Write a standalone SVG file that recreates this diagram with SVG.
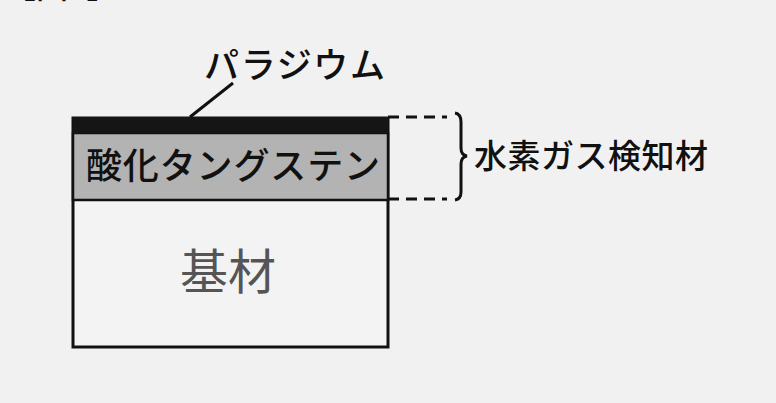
<svg xmlns="http://www.w3.org/2000/svg" width="776" height="403" viewBox="0 0 776 403">
<style>
.t{font-family:"Noto Sans CJK JP","Noto Sans CJK SC",sans-serif;fill:#111;font-weight:500}
.line{stroke:#111;fill:none}
.dash{stroke:#111;stroke-width:3;stroke-dasharray:11,7;fill:none}
</style>
<rect width="776" height="403" fill="#f1f1f1"/>
<g id="title"><text class="t" x="4" y="-2" font-size="32">【図1】</text></g>
<g id="substrate">
<rect x="73" y="118" width="315" height="229" fill="#f3f3f3" stroke="#111" stroke-width="3"/>
<text class="t" x="180" y="289" font-size="48" style="fill:#555;font-weight:400">基材</text>
</g>
<g id="tungsten-oxide">
<rect x="73" y="133" width="315" height="67" fill="#b3b3b3" stroke="#111" stroke-width="2.5"/>
<text class="t" x="86" y="179" font-size="36" textLength="294">酸化タングステン</text>
</g>
<g id="palladium">
<rect x="73" y="117" width="315" height="16" fill="#151515"/>
<text class="t" x="204" y="78" font-size="35" textLength="181">パラジウム</text>
</g>
<g id="sensor-label">
<text class="t" x="474" y="168" font-size="33" textLength="234">水素ガス検知材</text>
</g>
<g id="connectors">
<line class="line" x1="233" y1="83" x2="190" y2="117" stroke-width="3"/>
<line class="dash" x1="388" y1="117" x2="447" y2="117"/>
<line class="dash" x1="388" y1="199" x2="447" y2="199"/>
<path class="line" stroke-width="3" d="M455,113 Q461,114 461,122 L461,148 Q461,155 467,156 Q461,157 461,164 L461,192 Q461,199 455,200"/>
</g>
</svg>
